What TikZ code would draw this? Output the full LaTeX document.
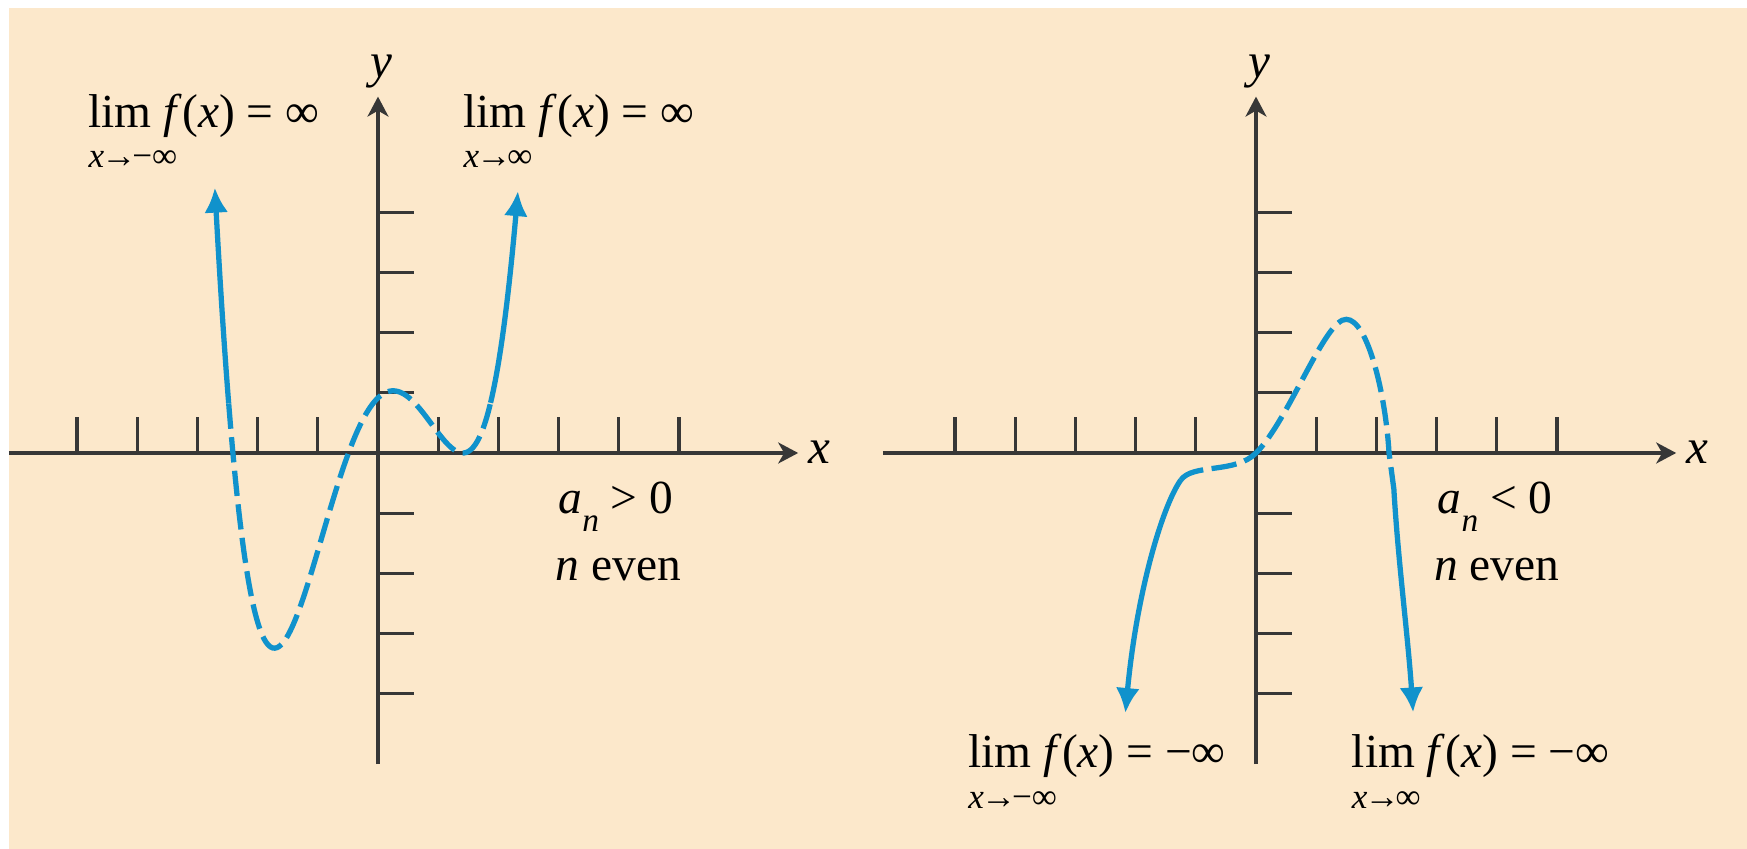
\documentclass[tikz,border=0pt]{standalone}
\usepackage{fontspec}
\setmainfont{Liberation Serif}
\usetikzlibrary{arrows.meta}
\definecolor{colPeach}{RGB}{252,232,203}
\definecolor{colGraph}{RGB}{16,146,204}
\definecolor{colAxis}{RGB}{55,55,55}
\tikzset{
    axisline/.style={colAxis, line width=0.9pt, -{Stealth[length=2mm, width=2.1mm, inset=0.6mm]}},
    tickline/.style={colAxis, line width=0.9pt},
    graphline/.style={colGraph, line width=1.5pt, >={Latex[length=2.5mm, width=2.4mm]}},
    graphdash/.style={graphline, dash pattern=on 7.2pt off 2.4pt},
    limtext/.style={anchor=base west, inner sep=0pt, font=\fontsize{13.5}{16}\selectfont},
    limsub/.style={anchor=base west, inner sep=0pt, font=\fontsize{10}{12}\selectfont},
    axistext/.style={anchor=base, inner sep=0pt, font=\fontsize{14}{16}\selectfont\itshape}
}
\newcommand{\subn}{\raisebox{-5.3pt}{\fontsize{9.5}{11}\selectfont\textit{n}}}
\newcommand{\tendsto}{\kern-0.8pt→\kern-1.2pt}

\begin{document}
\begin{tikzpicture}[x=0.602cm, y=0.602cm,
    declare function={quartic(\t)=0.39*(\t+2.41)*(\t+0.49)*(\t-1.41)*(\t-1.41);}]

    \useasboundingbox (-6.279,-6.578) rectangle (22.741,7.525);
    \fill[colPeach] (-6.130,-6.578) rectangle (22.741,7.392);

    % left panel: a_n > 0
    \draw[axisline] (-6.13,0) -- (6.98,0);
    \draw[axisline] (0,-5.17) -- (0,5.92);
    \foreach \k in {-5,...,-1,1,2,...,5} \draw[tickline] (\k,0) -- (\k,0.6);
    \foreach \k in {-4,...,-1,1,2,3,4} \draw[tickline] (0,\k) -- (0.6,\k);
    \node[axistext] (xLeft) at (7.34,-0.17) {x};
    \node[axistext] (yLeft) at (0.05,6.23) {y};

    \draw[graphline, <-] plot[domain=-2.71:-2.48, samples=20] (\x, {quartic(\x)});
    \draw[graphdash] plot[domain=-2.48:1.87, samples=120, smooth] (\x, {quartic(\x)});
    \draw[graphline, ->] plot[domain=1.87:2.325, samples=20] (\x, {quartic(\x)});

    \node[limtext] (limLeftA) at (-4.82,5.41) {lim \textit{f}(\textit{x}) = ∞};
    \node[limsub] (subLeftA) at (-4.82,4.74) {\textit{x}\tendsto−∞};
    \node[limtext] (limLeftB) at (1.41,5.41) {lim \textit{f}(\textit{x}) = ∞};
    \node[limsub] (subLeftB) at (1.41,4.74) {\textit{x}\tendsto∞};
    \node[limtext] (signLeft) at (2.99,-1.0) {\textit{a}\subn{} > 0};
    \node[limtext] (parLeft) at (2.94,-2.11) {\textit{n} even};

    % right panel: a_n < 0
    \begin{scope}[shift={(14.585,0)}]
        \draw[axisline] (-6.20,0) -- (6.98,0);
        \draw[axisline] (0,-5.17) -- (0,5.92);
        \foreach \k in {-5,...,-1,1,2,...,5} \draw[tickline] (\k,0) -- (\k,0.6);
        \foreach \k in {-4,...,-1,1,2,3,4} \draw[tickline] (0,\k) -- (0.6,\k);
        \node[axistext] (xRight) at (7.34,-0.17) {x};
        \node[axistext] (yRight) at (0.05,6.23) {y};

        \coordinate (tipA) at (-2.17,-4.32);
        \coordinate (dashA) at (-1.25,-0.45);
        \coordinate (orig) at (0,0);
        \coordinate (peak) at (1.50,2.22);
        \coordinate (cross) at (2.21,0);
        \coordinate (dashB) at (2.29,-0.6);
        \coordinate (tipB) at (2.61,-4.31);

        \draw[graphline, <-] (tipA) .. controls (-1.98,-2.3) and (-1.55,-0.87) .. (dashA);
        \draw[graphdash] (dashA) .. controls (-1.05,-0.17) and (-0.35,-0.35) .. (orig)
            .. controls (0.55,0.55) and (1.15,2.24) .. (peak)
            .. controls (1.85,2.22) and (2.15,1.0) .. (cross) -- (dashB);
        \draw[graphline, ->] (dashB) .. controls (2.36,-1.8) and (2.52,-3.0) .. (tipB);

        \node[limtext] (limRightA) at (-4.79,-5.22) {lim \textit{f}(\textit{x}) = −∞};
        \node[limsub] (subRightA) at (-4.79,-5.90) {\textit{x}\tendsto−∞};
        \node[limtext] (limRightB) at (1.58,-5.22) {lim \textit{f}(\textit{x}) = −∞};
        \node[limsub] (subRightB) at (1.58,-5.90) {\textit{x}\tendsto∞};
        \node[limtext] (signRight) at (3.01,-1.0) {\textit{a}\subn{} < 0};
        \node[limtext] (parRight) at (2.95,-2.11) {\textit{n} even};
    \end{scope}

\end{tikzpicture}
\end{document}
